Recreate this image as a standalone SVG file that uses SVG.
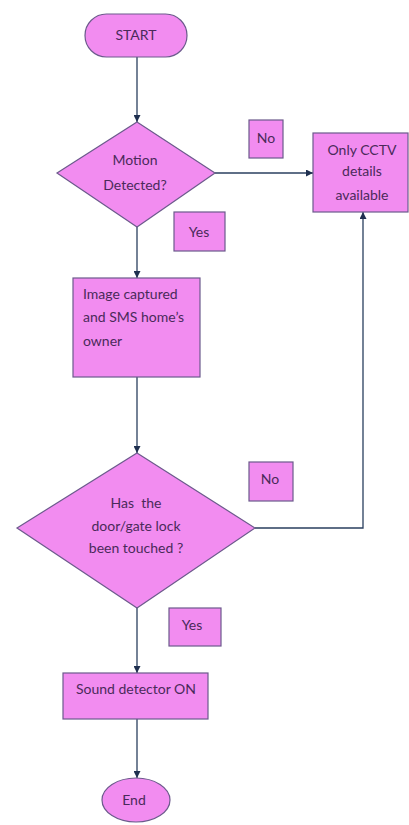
<svg xmlns="http://www.w3.org/2000/svg" width="409" height="825" viewBox="0 0 409 825">
<style>
.shape{fill:#f28cf0;stroke:#6c5a8c;stroke-width:1.2}
.t{font-family:Lato,"Open Sans","Liberation Sans",sans-serif;font-size:14px;fill:#4a2a5a;text-anchor:middle;white-space:pre}
.tl{text-anchor:start}
.conn{stroke:#2a3f5f;stroke-width:1.3;fill:none}
</style>
<defs>
<marker id="ah" viewBox="0 0 10 10" refX="10" refY="5" markerWidth="7" markerHeight="7" markerUnits="userSpaceOnUse" orient="auto">
<path d="M0,0 L10,5 L0,10 z" fill="#1f3050"/>
</marker>
</defs>
<rect width="409" height="825" fill="#ffffff"/>
<g id="connectors">
<line class="conn" x1="137" y1="57" x2="137" y2="122" marker-end="url(#ah)"/>
<line class="conn" x1="215" y1="173" x2="313" y2="173" marker-end="url(#ah)"/>
<line class="conn" x1="137" y1="227" x2="137" y2="278" marker-end="url(#ah)"/>
<line class="conn" x1="137" y1="377" x2="137" y2="453" marker-end="url(#ah)"/>
<polyline class="conn" points="255,528 363,528 363,212" marker-end="url(#ah)"/>
<line class="conn" x1="137" y1="608" x2="137" y2="673" marker-end="url(#ah)"/>
<line class="conn" x1="137" y1="719" x2="137" y2="778" marker-end="url(#ah)"/>
</g>
<g id="start">
<rect class="shape" x="85" y="14" width="102" height="43" rx="21.5"/>
<text class="t" x="136" y="40">START</text>
</g>
<g id="motion">
<polygon class="shape" points="137,122 215,173 137,227 57,173"/>
<text class="t" x="135" y="165">Motion</text>
<text class="t" x="135" y="190">Detected?</text>
</g>
<g id="no1">
<rect class="shape" x="249" y="120" width="34" height="38"/>
<text class="t" x="266" y="143">No</text>
</g>
<g id="cctv">
<rect class="shape" x="313" y="133" width="95" height="79"/>
<text class="t" x="362" y="155">Only CCTV</text>
<text class="t" x="362" y="176">details</text>
<text class="t" x="362" y="200">available</text>
</g>
<g id="yes1">
<rect class="shape" x="174" y="212" width="51" height="39"/>
<text class="t" x="199" y="237">Yes</text>
</g>
<g id="image">
<rect class="shape" x="73" y="278" width="127" height="99"/>
<text class="t tl" x="83" y="299">Image captured</text>
<text class="t tl" x="83" y="322">and SMS home’s</text>
<text class="t tl" x="83" y="346">owner</text>
</g>
<g id="touched">
<polygon class="shape" points="137,453 255,528 137,608 17,528"/>
<text class="t" x="136" y="508">Has  the</text>
<text class="t" x="136" y="531">door/gate lock</text>
<text class="t" x="136" y="553">been touched ?</text>
</g>
<g id="no2">
<rect class="shape" x="249" y="462" width="44" height="39"/>
<text class="t" x="270" y="484">No</text>
</g>
<g id="yes2">
<rect class="shape" x="169" y="608" width="52" height="38"/>
<text class="t" x="192" y="630">Yes</text>
</g>
<g id="sound">
<rect class="shape" x="63" y="673" width="145" height="46"/>
<text class="t" x="136" y="694">Sound detector ON</text>
</g>
<g id="end">
<ellipse class="shape" cx="136" cy="800" rx="34" ry="22"/>
<text class="t" x="134" y="805">End</text>
</g>
</svg>
